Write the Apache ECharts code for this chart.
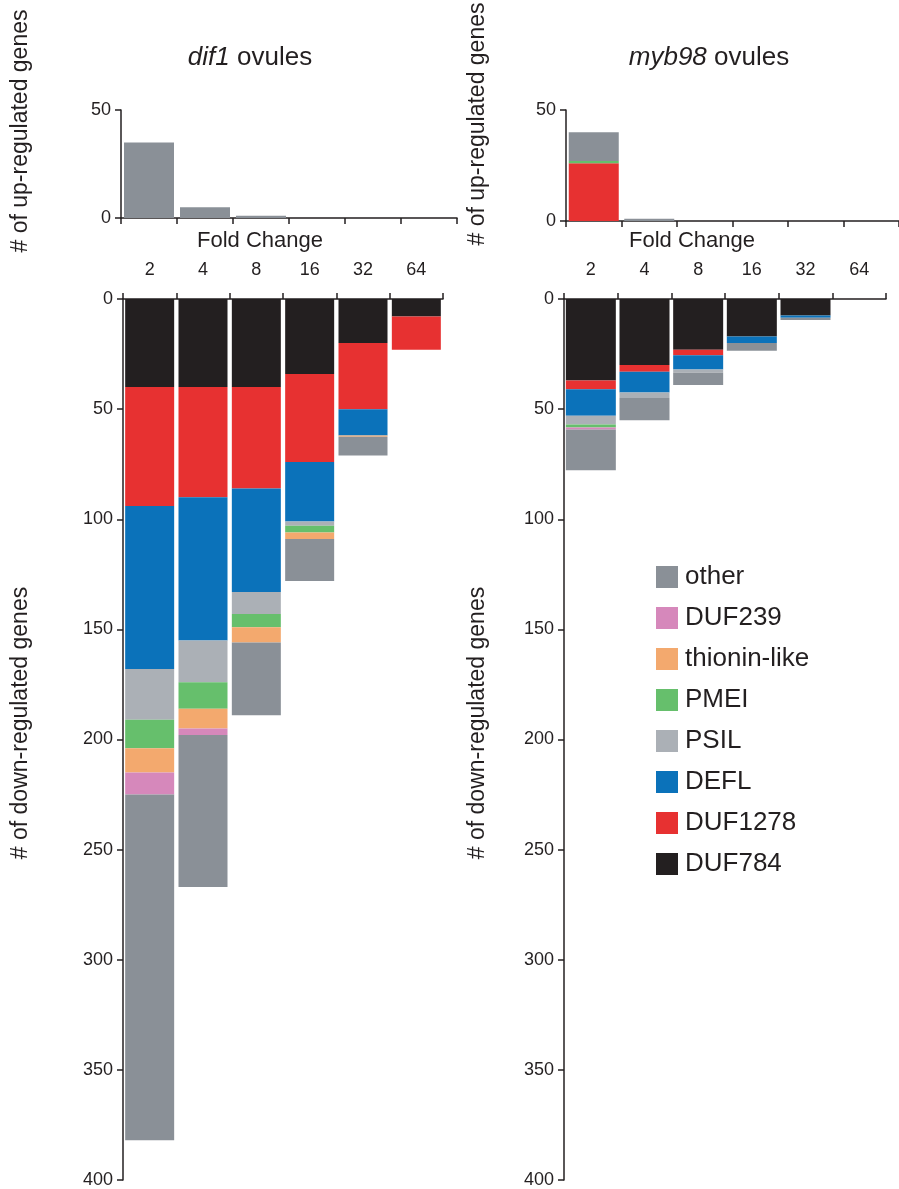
<!DOCTYPE html>
<html>
<head>
<meta charset="utf-8">
<title>dif1 / myb98 ovules</title>
<script src="https://cdn.jsdelivr.net/npm/echarts@6/dist/echarts.min.js"></script>
<style>
	html, body { margin: 0; padding: 0; background: #fff; }
	#chart { width: 899px; height: 1189px; }
</style>
</head>
<body>
<div id="chart"></div>
<script>
// 倍数分类
var foldChange = [ '2', '4', '8', '16', '32', '64' ];
var legendNames = [ 'other', 'DUF239', 'thionin-like', 'PMEI', 'PSIL', 'DEFL', 'DUF1278', 'DUF784' ];

// dif1 上调
var dif1UpOther = [ 35, 5, 1, 0, 0, 0 ];

// myb98 上调 (从下往上: DUF1278, PMEI, other)
var myb98UpDUF1278 = [ 26, 0, 0, 0, 0, 0 ];
var myb98UpPMEI = [ 1, 0, 0, 0, 0, 0 ];
var myb98UpOther = [ 13, 1, 0, 0, 0, 0 ];

// dif1 下调 (从0往下堆叠)
var dif1DUF784 = [ 40, 40, 40, 34, 20, 8 ];
var dif1DUF1278 = [ 54, 50, 46, 40, 30, 15 ];
var dif1DEFL = [ 74, 65, 47, 27, 12, 0 ];
var dif1PSIL = [ 23, 19, 10, 2, 0, 0 ];
var dif1PMEI = [ 13, 12, 6, 3, 0, 0 ];
var dif1Thionin = [ 11, 9, 7, 3, 0.5, 0 ];
var dif1DUF239 = [ 10, 3, 0, 0, 0, 0 ];
var dif1Other = [ 157, 69, 33, 19, 8.5, 0 ];

// myb98 下调
var myb98DUF784 = [ 37, 30, 23, 17, 7.5, 0 ];
var myb98DUF1278 = [ 4, 3, 2.5, 0, 0, 0 ];
var myb98DEFL = [ 12, 9.5, 6.5, 3, 1, 0 ];
var myb98PSIL = [ 4, 2.5, 1.5, 0, 0, 0 ];
var myb98PMEI = [ 1.3, 0, 0, 0, 0, 0 ];
var myb98Thionin = [ 0, 0, 0, 0, 0, 0 ];
var myb98DUF239 = [ 1, 0, 0, 0, 0, 0 ];
var myb98Other = [ 18.5, 10, 5.5, 3.5, 1, 0 ];

var colors = {
	'other' : '#8a9097',
	'DUF239' : '#d688bb',
	'thionin-like' : '#f3a96e',
	'PMEI' : '#66bf6c',
	'PSIL' : '#abb0b6',
	'DEFL' : '#0b72ba',
	'DUF1278' : '#e73131',
	'DUF784' : '#231f20'
};

var font = 'Liberation Sans, Arial, Helvetica, sans-serif';
var ink = '#231f20';

function bar(name, data, idx, stack, width) {
	return {
		name : name,
		type : 'bar',
		xAxisIndex : idx,
		yAxisIndex : idx,
		stack : stack,
		barWidth : width,
		data : data,
		itemStyle : { color : colors[name] },
		emphasis : { disabled : true },
		animation : false
	};
}

function xAxis(idx, pos, showLabel) {
	return {
		type : 'category',
		gridIndex : idx,
		position : pos,
		data : foldChange,
		axisLine : { lineStyle : { color : ink, width : 1.5 } },
		axisTick : { show : true, length : 6, lineStyle : { color : ink, width : 1.5 } },
		axisLabel : { show : showLabel, margin : 20, fontSize : 18, color : ink, fontFamily : font }
	};
}

function yAxis(idx, max, inverse) {
	return {
		type : 'value',
		gridIndex : idx,
		min : 0,
		max : max,
		interval : 50,
		inverse : inverse,
		splitLine : { show : false },
		axisLine : { show : true, lineStyle : { color : ink, width : 1.5 } },
		axisTick : { show : true, length : 6, lineStyle : { color : ink, width : 1.5 } },
		axisLabel : { margin : 10, fontSize : 18, color : ink, fontFamily : font }
	};
}

// 竖排轴标题
function vText(text, x, y) {
	return {
		type : 'text',
		x : x,
		y : y,
		rotation : Math.PI / 2,
		style : { text : text, fill : ink, font : '23px ' + font, textAlign : 'center', textVerticalAlign : 'middle' }
	};
}

function hText(text, x, y) {
	return {
		type : 'text',
		x : x,
		y : y,
		style : { text : text, fill : ink, font : '22px ' + font, textAlign : 'center', textVerticalAlign : 'middle' }
	};
}

var series = [
	bar('other', dif1UpOther, 0, 'u0', 50),

	bar('DUF1278', myb98UpDUF1278, 1, 'u1', 50),
	bar('PMEI', myb98UpPMEI, 1, 'u1', 50),
	bar('other', myb98UpOther, 1, 'u1', 50),

	bar('DUF784', dif1DUF784, 2, 'd2', 49),
	bar('DUF1278', dif1DUF1278, 2, 'd2', 49),
	bar('DEFL', dif1DEFL, 2, 'd2', 49),
	bar('PSIL', dif1PSIL, 2, 'd2', 49),
	bar('PMEI', dif1PMEI, 2, 'd2', 49),
	bar('thionin-like', dif1Thionin, 2, 'd2', 49),
	bar('DUF239', dif1DUF239, 2, 'd2', 49),
	bar('other', dif1Other, 2, 'd2', 49),

	bar('DUF784', myb98DUF784, 3, 'd3', 50),
	bar('DUF1278', myb98DUF1278, 3, 'd3', 50),
	bar('DEFL', myb98DEFL, 3, 'd3', 50),
	bar('PSIL', myb98PSIL, 3, 'd3', 50),
	bar('PMEI', myb98PMEI, 3, 'd3', 50),
	bar('thionin-like', myb98Thionin, 3, 'd3', 50),
	bar('DUF239', myb98DUF239, 3, 'd3', 50),
	bar('other', myb98Other, 3, 'd3', 50)
];

var titleStyle = {
	fontSize : 26, fontWeight : 'normal', color : ink, fontFamily : font,
	rich : { i : { fontSize : 26, fontStyle : 'italic', color : ink, fontFamily : font } }
};

var chart = echarts.init(document.getElementById('chart'), null, { renderer : 'canvas' });
chart.setOption({
	backgroundColor : '#fff',
	animation : false,
	title : [ {
		text : '{i|dif1} ovules',
		left : 245,
		top : 40,
		textAlign : 'center',
		textStyle : titleStyle
	}, {
		text : '{i|myb98} ovules',
		left : 704,
		top : 40,
		textAlign : 'center',
		textStyle : titleStyle
	} ],
	legend : {
		data : legendNames,
		orient : 'vertical',
		left : 651,
		top : 559,
		itemWidth : 22,
		itemHeight : 22,
		itemGap : 15,
		selectedMode : false,
		icon : 'rect',
		textStyle : { fontSize : 26, color : ink, fontFamily : font, padding : [ 0, 0, 0, 2 ] }
	},
	grid : [
		{ left : 121, top : 110, width : 336, height : 108 },
		{ left : 566, top : 110, width : 336, height : 111 },
		{ left : 123, top : 299, width : 320, height : 883 },
		{ left : 564, top : 299, width : 322, height : 883 }
	],
	xAxis : [
		xAxis(0, 'bottom', false),
		xAxis(1, 'bottom', false),
		xAxis(2, 'top', true),
		xAxis(3, 'top', true)
	],
	yAxis : [
		yAxis(0, 50, false),
		yAxis(1, 50, false),
		yAxis(2, 400, true),
		yAxis(3, 400, true)
	],
	graphic : [
		hText('Fold Change', 260, 241),
		hText('Fold Change', 692, 241),
		vText('# of up-regulated genes', 21, 131),
		vText('# of down-regulated genes', 21, 723),
		vText('# of up-regulated genes', 478, 124),
		vText('# of down-regulated genes', 478, 723)
	],
	series : series
});
</script>
</body>
</html>
